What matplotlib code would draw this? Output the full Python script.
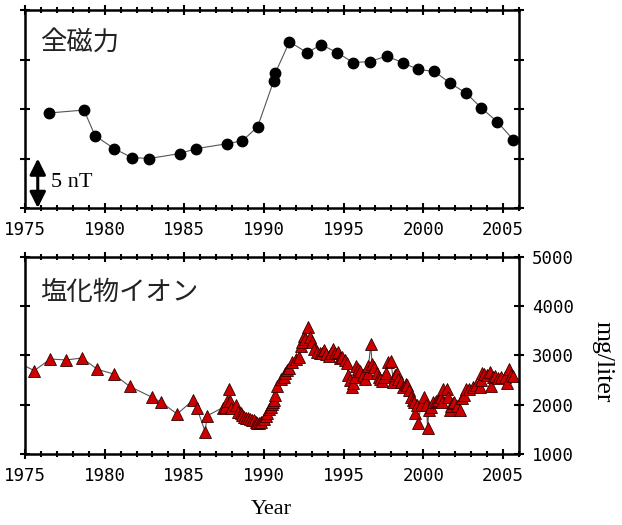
import matplotlib
matplotlib.use('Agg')
from matplotlib import pyplot as plt
import numpy as np

# total intensity (nT, relative), one point per survey
mag_year = [1976.5, 1978.7, 1979.4, 1980.6, 1981.7, 1982.8, 1984.7, 1985.75,
            1987.7, 1988.65, 1989.6, 1990.6, 1990.7, 1991.6, 1992.7, 1993.6,
            1994.6, 1995.6, 1996.65, 1997.7, 1998.7, 1999.65, 2000.7, 2001.7,
            2002.7, 2003.65, 2004.65, 2005.65]
mag_value = [9.6, 9.9, 7.3, 6.0, 5.1, 5.0, 5.5, 6.0,
             6.5, 6.8, 8.2, 12.8, 13.6, 16.8, 15.7, 16.5,
             15.7, 14.7, 14.8, 15.35, 14.7, 14.0, 13.8, 12.6,
             11.6, 10.1, 8.7, 6.9]

# chloride ion (mg/liter)
cl_year = [1974.5, 1975.58, 1976.58, 1977.58, 1978.58, 1979.54, 1980.56, 1981.56,
           1983.0, 1983.55, 1984.55, 1985.53, 1985.78, 1986.31, 1986.42, 1987.4,
           1987.55, 1987.68, 1987.8, 1987.85, 1987.9, 1988.27, 1988.4, 1988.55,
           1988.64, 1988.75, 1988.86, 1989.0, 1989.12, 1989.25, 1989.37, 1989.5,
           1989.58, 1989.7, 1989.83, 1990.0, 1990.1, 1990.2, 1990.31, 1990.42,
           1990.48, 1990.55, 1990.63, 1990.69, 1990.83, 1991.1, 1991.25, 1991.35,
           1991.45, 1991.56, 1991.77, 1992.0, 1992.19, 1992.3, 1992.4, 1992.5,
           1992.6, 1992.75, 1992.86, 1993.02, 1993.13, 1993.33, 1993.5, 1993.64,
           1993.75, 1993.9, 1994.06, 1994.2, 1994.31, 1994.48, 1994.65, 1994.79,
           1994.9, 1995.06, 1995.2, 1995.27, 1995.4, 1995.52, 1995.6, 1995.69,
           1995.77, 1995.9, 1996.04, 1996.19, 1996.35, 1996.5, 1996.56, 1996.71,
           1996.78, 1996.9, 1997.08, 1997.2, 1997.29, 1997.4, 1997.55, 1997.65,
           1997.81, 1997.96, 1998.13, 1998.25, 1998.35, 1998.44, 1998.6, 1998.75,
           1998.9, 1999.0, 1999.1, 1999.23, 1999.35, 1999.44, 1999.48, 1999.58,
           1999.69, 1999.85, 2000.06, 2000.2, 2000.27, 2000.35, 2000.5, 2000.63,
           2000.8, 2000.94, 2001.1, 2001.19, 2001.25, 2001.46, 2001.56, 2001.67,
           2001.73, 2001.85, 2001.94, 2002.1, 2002.29, 2002.4, 2002.54, 2002.71,
           2002.9, 2003.13, 2003.33, 2003.54, 2003.6, 2003.69, 2003.8, 2004.0,
           2004.17, 2004.23, 2004.35, 2004.5, 2004.69, 2004.85, 2005.1, 2005.27,
           2005.35, 2005.5, 2005.63]
cl_value = [2870, 2692, 2929, 2909, 2949, 2720, 2625, 2376,
            2150, 2052, 1816, 2090, 1944, 1455, 1775, 1944,
            1960, 2079, 2322, 2079, 1944, 1991, 1862, 1830,
            1795, 1760, 1741, 1730, 1714, 1700, 1694, 1650,
            1627, 1640, 1660, 1720, 1780, 1830, 1911, 1950,
            2012, 2060, 2099, 2194, 2382, 2520, 2571, 2652,
            2700, 2741, 2875, 2920, 2963, 3200, 3267, 3394,
            3328, 3570, 3380, 3279, 3125, 3077, 3060, 3044,
            3110, 3030, 2990, 3050, 3125, 3044, 3077, 2943,
            2960, 2909, 2842, 2605, 2500, 2368, 2450, 2571,
            2793, 2720, 2692, 2600, 2518, 2650, 2787, 3233,
            2820, 2760, 2639, 2560, 2518, 2480, 2560, 2639,
            2875, 2895, 2470, 2600, 2640, 2518, 2470, 2368,
            2420, 2400, 2301, 2166, 2100, 2065, 1830, 1998,
            1627, 2000, 2153, 2000, 1526, 1897, 1950, 2065,
            2080, 2099, 2150, 2065, 2315, 2315, 2160, 1897,
            1980, 2030, 2065, 1980, 1897, 2133, 2200, 2315,
            2330, 2368, 2400, 2368, 2504, 2652, 2620, 2600,
            2672, 2382, 2560, 2580, 2538, 2560, 2560, 2437,
            2720, 2600, 2585]

year_ticks = [1975, 1980, 1985, 1990, 1995, 2000, 2005]
cl_ticks = [1000, 2000, 3000, 4000, 5000]

tick_font = 'DejaVu Sans Mono'
serif = 'Liberation Serif'
jp = ['Noto Sans CJK JP', 'DejaVu Sans']


def style_axis(ax):
    for s in ax.spines.values():
        s.set_linewidth(1.8)
    ax.set_xlim(1975, 2006)
    ax.set_xticks(year_ticks)
    ax.set_xticks(np.arange(1975, 2007, 1), minor=True)
    ax.tick_params(which='both', direction='inout', top=True, right=True,
                   width=1.5, labelsize=12.5)
    ax.tick_params(which='major', length=7)
    ax.tick_params(which='minor', length=4)
    for lab in ax.get_xticklabels() + ax.get_yticklabels():
        lab.set_family(tick_font)


fig = plt.figure(figsize=(6.22, 5.25), dpi=100)

ax1 = fig.add_axes([0.0402, 0.6038, 0.794, 0.377])
ax1.plot(mag_year, mag_value, '-', color='#555555', lw=0.8,
         marker='o', ms=7.5, mfc='black', mec='black')
ax1.set_ylim(0, 20)
ax1.set_yticks([0, 5, 10, 15, 20])
ax1.set_yticklabels([])
style_axis(ax1)
ax1.tick_params(axis='x', pad=6)
ax1.text(0.031, 0.84, '全磁力', transform=ax1.transAxes, fontsize=19,
         family=jp, color='#222222', va='center', ha='left')
ax1.annotate('', xy=(1975.8, 0), xytext=(1975.8, 5),
             arrowprops=dict(arrowstyle='<|-|>', color='black', lw=2.2,
                             mutation_scale=24, shrinkA=0, shrinkB=0))
ax1.text(1976.65, 2.6, '5 nT', fontsize=16, family=serif, va='center', ha='left')

ax2 = fig.add_axes([0.0402, 0.1347, 0.794, 0.3764])
ax2.plot(cl_year, cl_value, '-', color='#555555', lw=0.8,
         marker='^', ms=8.5, mfc='#cc0000', mec='#330000', mew=0.6)
ax2.set_ylim(1000, 5000)
ax2.set_yticks(cl_ticks)
style_axis(ax2)
ax2.yaxis.tick_right()
ax2.tick_params(axis='y', which='both', left=True, right=True,
                labelleft=False, labelright=True, pad=6)
ax2.tick_params(axis='x', pad=6)
for lab in ax2.get_yticklabels():
    lab.set_family(tick_font)
ax2.text(0.031, 0.82, '塩化物イオン', transform=ax2.transAxes, fontsize=19,
         family=jp, color='#222222', va='center', ha='left')
ax2.text(602, 525 - 362, 'mg/liter', transform=None, rotation=-90,
         fontsize=18.5, family=serif, va='center', ha='center')
fig.text(271 / 622, 1 - 510 / 525, 'Year', fontsize=16, family=serif,
         va='center', ha='center')

fig.savefig('out.png', dpi=100)
